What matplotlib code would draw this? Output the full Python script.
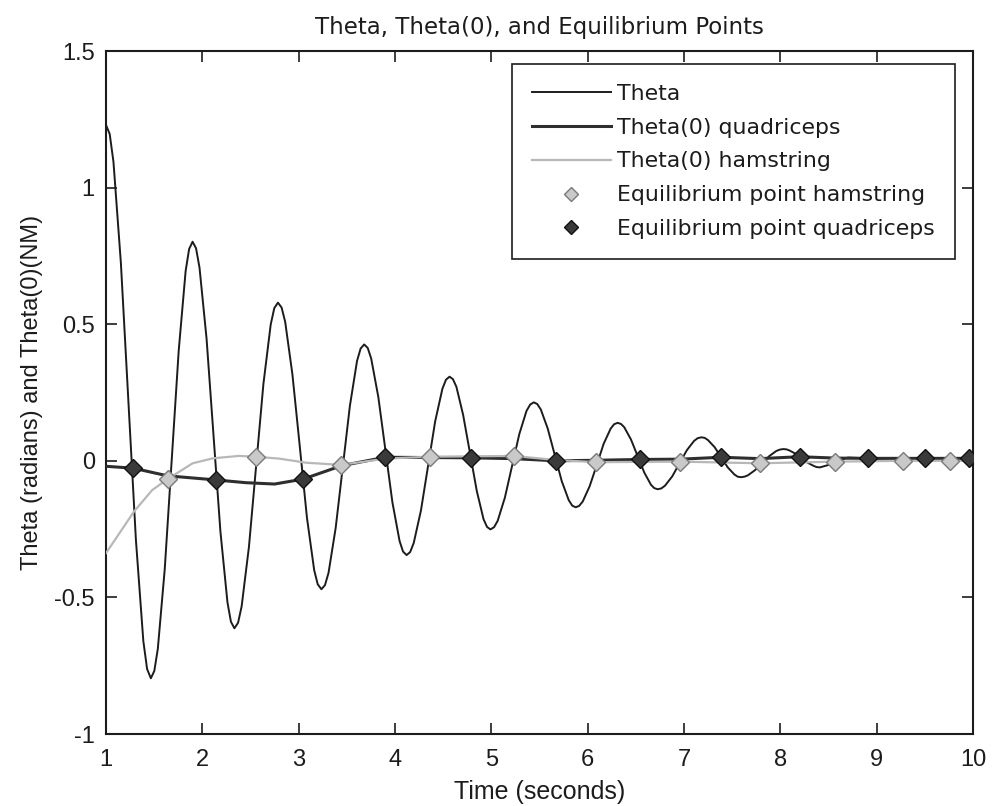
import matplotlib
matplotlib.use("Agg")
import matplotlib.pyplot as plt
from matplotlib.lines import Line2D

# ---- values ----
theta_t = [1.0, 1.039, 1.078, 1.155, 1.233, 1.311, 1.388, 1.427, 1.466,
           1.502, 1.538, 1.610, 1.683, 1.755, 1.827, 1.863, 1.899,
           1.935, 1.971, 2.044, 2.116, 2.188, 2.261, 2.297, 2.333,
           2.371, 2.408, 2.484, 2.559, 2.634, 2.710, 2.747, 2.785,
           2.823, 2.860, 2.935, 3.011, 3.086, 3.161, 3.198, 3.236,
           3.273, 3.310, 3.384, 3.458, 3.532, 3.606, 3.643, 3.680,
           3.717, 3.753, 3.827, 3.900, 3.973, 4.047, 4.083, 4.120,
           4.157, 4.194, 4.269, 4.343, 4.417, 4.492, 4.529, 4.566,
           4.601, 4.637, 4.707, 4.778, 4.849, 4.919, 4.955, 4.990,
           5.028, 5.065, 5.140, 5.215, 5.290, 5.365, 5.403, 5.440,
           5.476, 5.513, 5.585, 5.658, 5.730, 5.803, 5.839, 5.875,
           5.911, 5.948, 6.020, 6.093, 6.165, 6.238, 6.274, 6.310,
           6.345, 6.379, 6.449, 6.518, 6.587, 6.657, 6.691, 6.726,
           6.764, 6.802, 6.877, 6.953, 7.029, 7.104, 7.142, 7.180,
           7.214, 7.248, 7.317, 7.385, 7.453, 7.522, 7.556, 7.590,
           7.627, 7.663, 7.737, 7.810, 7.883, 7.957, 7.993, 8.030,
           8.062, 8.093, 8.157, 8.220, 8.283, 8.347, 8.378, 8.410,
           8.50, 8.60, 8.70, 8.85, 9.00, 9.50, 10.0]
theta_y = [1.23, 1.196, 1.094, 0.724, 0.217, -0.290, -0.660, -0.762, -0.796,
           -0.769, -0.689, -0.397, 0.003, 0.403, 0.695, 0.775, 0.802,
           0.778, 0.707, 0.448, 0.094, -0.259, -0.518, -0.589, -0.613,
           -0.593, -0.533, -0.315, -0.017, 0.281, 0.499, 0.559, 0.579,
           0.561, 0.509, 0.317, 0.055, -0.208, -0.400, -0.452, -0.470,
           -0.455, -0.410, -0.246, -0.022, 0.202, 0.366, 0.411, 0.426,
           0.413, 0.374, 0.233, 0.041, -0.152, -0.293, -0.332, -0.345,
           -0.334, -0.301, -0.182, -0.019, 0.145, 0.264, 0.297, 0.308,
           0.299, 0.271, 0.168, 0.029, -0.111, -0.214, -0.242, -0.251,
           -0.243, -0.220, -0.135, -0.019, 0.098, 0.183, 0.206, 0.214,
           0.208, 0.188, 0.118, 0.022, -0.074, -0.144, -0.164, -0.170,
           -0.165, -0.149, -0.093, -0.016, 0.062, 0.118, 0.134, 0.139,
           0.135, 0.123, 0.078, 0.018, -0.043, -0.088, -0.100, -0.104,
           -0.101, -0.091, -0.057, -0.009, 0.039, 0.073, 0.083, 0.086,
           0.084, 0.076, 0.050, 0.013, -0.024, -0.050, -0.058, -0.060,
           -0.058, -0.053, -0.034, -0.009, 0.017, 0.036, 0.041, 0.043,
           0.042, 0.038, 0.026, 0.010, -0.007, -0.019, -0.023, -0.024,
           -0.015, 0.000, 0.012, 0.010, 0.008, 0.008, 0.008]

quad_t = [1.0, 1.284, 1.64, 2.142, 2.45, 2.75, 3.045, 3.444, 3.896, 4.36, 4.79, 5.23,
          5.667, 6.083, 6.545, 6.96, 7.385, 7.785, 8.2, 8.57, 8.91, 9.27, 9.5, 10.0]
quad_y = [-0.02, -0.027, -0.055, -0.07, -0.08, -0.085, -0.067, -0.018, 0.013, 0.012, 0.011, 0.008,
          0.0, 0.002, 0.005, 0.006, 0.013, 0.008, 0.015, 0.01, 0.009, 0.009, 0.009, 0.009]

ham_t = [1.0, 1.14, 1.29, 1.48, 1.639, 1.9, 2.107, 2.38, 2.559, 2.8, 3.08, 3.444,
         3.7, 3.9, 4.36, 5.23, 5.67, 6.083, 6.96, 7.785, 8.57, 9.27, 9.76, 10.0]
ham_y = [-0.338, -0.265, -0.186, -0.107, -0.067, -0.009, 0.009, 0.018, 0.015, 0.008, -0.007, -0.015,
         -0.002, 0.008, 0.015, 0.018, 0.003, -0.005, -0.003, -0.009, -0.003, 0.0, 0.0, 0.0]

eq_ham_t = [1.639, 2.559, 3.444, 4.36, 5.23, 6.083, 6.96, 7.785, 8.57, 9.27, 9.76]
eq_ham_y = [-0.067, 0.015, -0.015, 0.015, 0.018, -0.005, -0.003, -0.009, -0.003, 0.0, 0.0]
eq_quad_t = [1.284, 2.142, 3.045, 3.896, 4.79, 5.667, 6.545, 7.385, 8.2, 8.91, 9.50, 9.955]
eq_quad_y = [-0.027, -0.07, -0.067, 0.013, 0.011, 0.0, 0.005, 0.013, 0.015, 0.009, 0.009, 0.009]

labels = ["Theta", "Theta(0) quadriceps", "Theta(0) hamstring",
          "Equilibrium point hamstring", "Equilibrium point quadriceps"]

NARROW = ["Liberation Sans Narrow", "Liberation Sans", "DejaVu Sans"]
WIDE = ["DejaVu Sans"]
INK, DARK, LIGHT = "#1c1c1c", "#2e2e2e", "#b8b8b8"
HAM_FACE, HAM_EDGE = "#c9c9c9", "#7a7a7a"
QUAD_FACE, QUAD_EDGE = "#3a3a3a", "#111111"

fig = plt.figure(figsize=(9.93, 8.06), dpi=100)
ax = fig.add_axes([0.1067, 0.0893, 0.8733, 0.8474])

ax.plot(theta_t, theta_y, color=INK, lw=1.4, zorder=3)
ax.plot(quad_t, quad_y, color=DARK, lw=2.2, zorder=4)
ax.plot(ham_t, ham_y, color=LIGHT, lw=1.6, zorder=4)
ax.plot(eq_ham_t, eq_ham_y, ls="none", marker="D", ms=9.5, mfc=HAM_FACE, mec=HAM_EDGE,
        mew=1.0, zorder=6)
ax.plot(eq_quad_t, eq_quad_y, ls="none", marker="D", ms=9.5, mfc=QUAD_FACE, mec=QUAD_EDGE,
        mew=1.0, zorder=6)

ax.set_xlim(1, 10)
ax.set_ylim(-1, 1.5)
ax.set_xticks(range(1, 11))
ax.set_yticks([-1, -0.5, 0, 0.5, 1, 1.5])
ax.set_yticklabels(["-1", "-0.5", "0", "0.5", "1", "1.5"])
ax.tick_params(direction="in", length=8, width=1.2, top=True, right=True,
               labelsize=17, colors=INK)
ax.tick_params(axis="x", pad=11)
ax.tick_params(axis="y", pad=8)
for lab in ax.get_xticklabels() + ax.get_yticklabels():
    lab.set_family(NARROW)
for sp in ax.spines.values():
    sp.set_linewidth(1.5)
    sp.set_color(INK)

ax.set_title("Theta, Theta(0), and Equilibrium Points", family=WIDE, fontsize=16.5,
             color=INK, pad=12)
ax.set_xlabel("Time (seconds)", family=NARROW, fontsize=18, color=INK, labelpad=6)
ax.set_ylabel("Theta (radians) and Theta(0)(NM)", family=NARROW, fontsize=17, color=INK,
              labelpad=8)

handles = [
    Line2D([], [], color=INK, lw=1.4),
    Line2D([], [], color=DARK, lw=2.2),
    Line2D([], [], color=LIGHT, lw=1.6),
    Line2D([], [], ls="none", marker="D", ms=7.5, mfc=HAM_FACE, mec=HAM_EDGE, mew=1.0),
    Line2D([], [], ls="none", marker="D", ms=7.5, mfc=QUAD_FACE, mec=QUAD_EDGE, mew=1.0),
]
leg = ax.legend(handles, labels, loc="upper right", bbox_to_anchor=(0.979, 0.981),
                prop={"family": WIDE, "size": 15.8}, frameon=True, fancybox=False,
                handlelength=3.6, handletextpad=0.3, labelspacing=0.63, borderpad=0.9,
                borderaxespad=0.0)
leg.get_frame().set_edgecolor(INK)
leg.get_frame().set_linewidth(1.2)
leg.get_frame().set_alpha(1.0)
for t in leg.get_texts():
    t.set_color(INK)

fig.savefig("out.png", dpi=100)
